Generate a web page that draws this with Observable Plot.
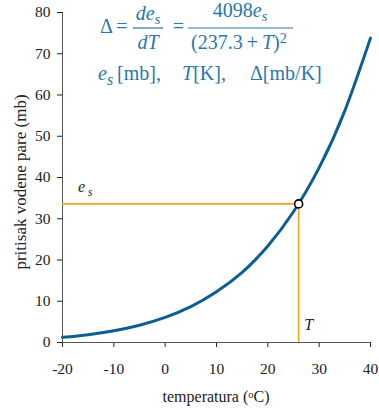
<!DOCTYPE html>
<html><head><meta charset="utf-8">
<script src="https://cdn.jsdelivr.net/npm/d3@7"></script>
<script src="https://cdn.jsdelivr.net/npm/@observablehq/plot@0.6"></script>
<style>body{margin:0;background:#fff}</style>
</head><body><div id="chart"></div>
<script>
// data
const temps = [-20, -15, -10, -5, 0, 5, 10, 15, 20, 25, 30, 35, 40];
const pressures = [1.25, 1.9, 2.86, 4.2, 6.1, 8.7, 12.3, 17.0, 23.4, 31.7, 42.4, 56.2, 73.8];
const pointT = 26;
const pointEs = 33.6;
const xTicks = [-20, -10, 0, 10, 20, 30, 40];
const yTicks = [0, 10, 20, 30, 40, 50, 60, 70, 80];
const xLabelMain = "temperatura (";
const xLabelSup = "o";
const xLabelEnd = "C)";
const yLabel = "pritisak vodene pare (mb)";

const curveColor = "#0b5e94";
const guideColor = "#f5a31a";
const formulaColor = "#2878ae";
const serif = "'Liberation Serif', 'Times New Roman', serif";

const rows = temps.map((t, i) => ({t, p: pressures[i]}));

function addText(g, x, y, parts, anchor, size, color) {
  const t = g.append("text").attr("x", x).attr("y", y)
    .attr("text-anchor", anchor || "start")
    .attr("font-family", serif).attr("font-size", size).attr("fill", color);
  for (const p of parts) {
    const s = t.append("tspan").text(p.t);
    if (p.i) s.attr("font-style", "italic");
    if (p.sub) s.attr("baseline-shift", "-30%").attr("font-size", size * (p.scale || 0.72));
    if (p.sup) s.attr("baseline-shift", "45%").attr("font-size", size * (p.scale || 0.72));
  }
  return t;
}

function annotations(index, scales, values, dimensions) {
  const {x, y} = scales;
  const {width, height, marginLeft, marginRight, marginTop, marginBottom} = dimensions;
  const g = d3.create("svg:g");
  const fs = 20;
  const c = formulaColor;
  // formula line 1
  addText(g, 100, 33, [{t: "Δ"}], "start", fs, c);
  addText(g, 122, 33, [{t: "="}], "middle", fs, c);
  addText(g, 148, 20, [{t: "de", i: 1}, {t: "s", i: 1, sub: 1}], "middle", fs, c);
  g.append("line").attr("x1", 133).attr("x2", 163).attr("y1", 28).attr("y2", 28).attr("stroke", c).attr("stroke-width", 1.2);
  addText(g, 148, 49, [{t: "dT", i: 1}], "middle", fs, c);
  addText(g, 178.5, 33, [{t: "="}], "middle", fs, c);
  addText(g, 240, 17, [{t: "4098"}, {t: "e", i: 1}, {t: "s", i: 1, sub: 1}], "middle", fs, c);
  g.append("line").attr("x1", 188).attr("x2", 293).attr("y1", 28).attr("y2", 28).attr("stroke", c).attr("stroke-width", 1.2);
  addText(g, 239, 49, [{t: "(237.3\u2009+\u2009"}, {t: "T", i: 1}, {t: ")"}, {t: "2", sup: 1}], "middle", fs, c);
  // formula line 2
  addText(g, 98, 80, [{t: "e", i: 1}], "start", fs, c);
  addText(g, 107, 80, [{t: "s", i: 1, sub: 1, scale: 0.8}], "start", fs, c);
  addText(g, 117, 80, [{t: "[mb],"}], "start", fs, c);
  addText(g, 182, 80, [{t: "T", i: 1}, {t: "[K],"}], "start", fs, c);
  addText(g, 250, 80, [{t: "Δ[mb/K]"}], "start", fs, c);
  // guide labels
  addText(g, x(xTicks[0]) + 16, y(pointEs) - 11, [{t: "e", i: 1}, {t: " s", i: 1, sub: 1}], "start", 16, "#222");
  addText(g, x(pointT) + 6, y(0) - 12, [{t: "T", i: 1}], "start", 16, "#222");
  // axis labels
  const cx = (marginLeft + width - marginRight) / 2;
  addText(g, cx, height - 8, [{t: xLabelMain}, {t: xLabelSup, sup: 1, scale: 0.65}, {t: xLabelEnd}], "middle", 16, "#222");
  const cy = (marginTop + height - marginBottom) / 2 + 5;
  addText(g, 0, 0, [{t: yLabel}], "middle", 17, "#222")
    .attr("transform", `translate(26,${cy}) rotate(-90)`);
  return g.node();
}

const chart = Plot.plot({
  width: 379,
  height: 410,
  marginLeft: 62,
  marginRight: 9,
  marginTop: 12,
  marginBottom: 68,
  style: {fontFamily: serif, fontSize: "15.5px", color: "#222", background: "#fff"},
  x: {domain: [-20, 40], ticks: xTicks, tickFormat: d => String(d), tickSize: 5, tickPadding: 15, label: null},
  y: {domain: [0, 80], ticks: yTicks, tickSize: 5, tickPadding: 7, label: null},
  marks: [
    Plot.ruleX([xTicks[0]], {y1: yTicks[0], y2: yTicks[yTicks.length - 1], stroke: "#555"}),
    Plot.ruleY([yTicks[0]], {x1: xTicks[0], x2: xTicks[xTicks.length - 1], stroke: "#555"}),
    Plot.ruleY([pointEs], {x1: xTicks[0], x2: pointT, stroke: guideColor, strokeWidth: 1.6}),
    Plot.ruleX([pointT], {y1: 0, y2: pointEs, stroke: guideColor, strokeWidth: 1.6}),
    Plot.line(rows, {x: "t", y: "p", stroke: curveColor, strokeWidth: 3, curve: "natural"}),
    Plot.dot([{t: pointT, p: pointEs}], {x: "t", y: "p", r: 4, fill: "white", stroke: "black", strokeWidth: 1.6}),
    annotations
  ]
});
document.getElementById("chart").appendChild(chart);
</script>
</body></html>
